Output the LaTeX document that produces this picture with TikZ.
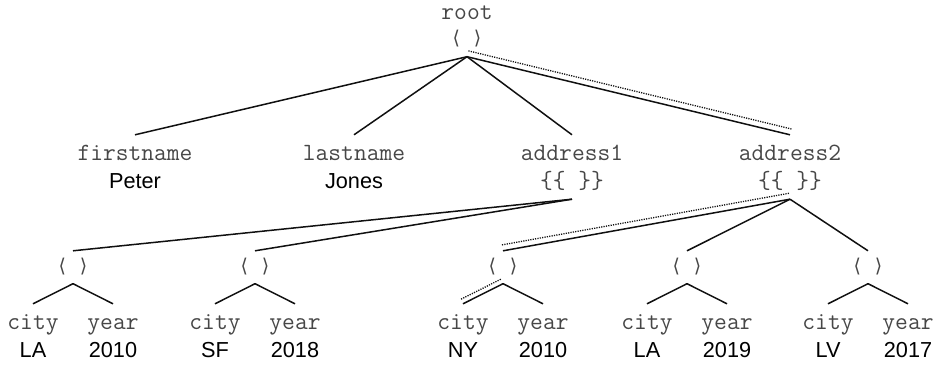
\documentclass[tikz,border=0pt]{standalone}
\usepackage{fontspec}
\setsansfont{Liberation Sans}
\newfontfamily\bracketfont{DejaVu Sans}
\usetikzlibrary{positioning,calc}
\definecolor{tKey}{HTML}{474747}
\definecolor{tEdge}{HTML}{101010}

\begin{document}
\begin{tikzpicture}[
  x=1pt, y=1pt,
  key/.style={font=\ttfamily\fontsize{24.8}{28}\selectfont, text=tKey, anchor=base,
              inner xsep=0pt, inner ysep=7pt, text height=18pt, text depth=4pt},
  val/.style={font=\sffamily\fontsize{21.7}{26}\selectfont, text=black, anchor=base,
              inner sep=0pt},
  tup/.style={font=\bracketfont\fontsize{19}{19}\selectfont, text=tKey, anchor=base,
              inner xsep=0pt, inner ysep=6.75pt, text height=14.25pt, text depth=4.75pt},
  link/.style={draw=tEdge, line width=1.5pt},
  trace/.style={draw=tEdge, line width=1.3pt, dash pattern=on 1.2pt off 1.2pt},
]
\useasboundingbox (0,0) rectangle (936,365);

% root record
\node[key] (rootk) at (467,345) {root};
\node[tup] (rootT) at (467,320) {⟨\hspace{14pt}⟩};

% first level
\node[key] (first) at (135,205) {firstname};
\node[key] (last) at (354,205) {lastname};
\node[key] (addr1) at (572,205) {address1};
\node[key] (addr2) at (790,205) {address2};
\node[val, below=28pt of first.base, anchor=base] (peter) {Peter};
\node[val, below=28pt of last.base, anchor=base] (jones) {Jones};
\node[key, below=28pt of addr1.base, anchor=base] (bag1) {\{\{ \}\}};
\node[key, below=28pt of addr2.base, anchor=base] (bag2) {\{\{ \}\}};

\draw[link] (rootT.south) -- (first.north);
\draw[link] (rootT.south) -- (last.north);
\draw[link] (rootT.south) -- (addr1.north);
\draw[link] (rootT.south) -- (addr2.north);

% address tuples
\foreach \g/\x/\c/\y in {1/73/LA/2010, 2/255/SF/2018, 3/503/NY/2010, 4/687/LA/2019, 5/868/LV/2017} {
  \node[tup] (t\g) at (\x,93) {⟨\hspace{14pt}⟩};
  \node[key] (city\g) at (\x-40,36) {city};
  \node[key] (year\g) at (\x+40,36) {year};
  \node[val, below=28pt of city\g.base, anchor=base] (cv\g) {\c};
  \node[val, below=28pt of year\g.base, anchor=base] (yv\g) {\y};
  \draw[link] (t\g.south) -- (city\g.north);
  \draw[link] (t\g.south) -- (year\g.north);
}
\foreach \g in {1,2} \draw[link] (bag1.south) -- (t\g.north);
\foreach \g in {3,4,5} \draw[link] (bag2.south) -- (t\g.north);

% path root -> address2 -> NY
\draw[trace] ($(rootT.south)!6pt!90:(addr2.north)$) -- ($(addr2.north)!6pt!-90:(rootT.south)$);
\draw[trace] ($(bag2.south)!6pt!-90:(t3.north)$) -- ($(t3.north)!6pt!90:(bag2.south)$);
\draw[trace] ($(t3.south)!5pt!-90:(city3.north)$) -- ($(city3.north)!5pt!90:(t3.south)$);

\end{tikzpicture}
\end{document}
